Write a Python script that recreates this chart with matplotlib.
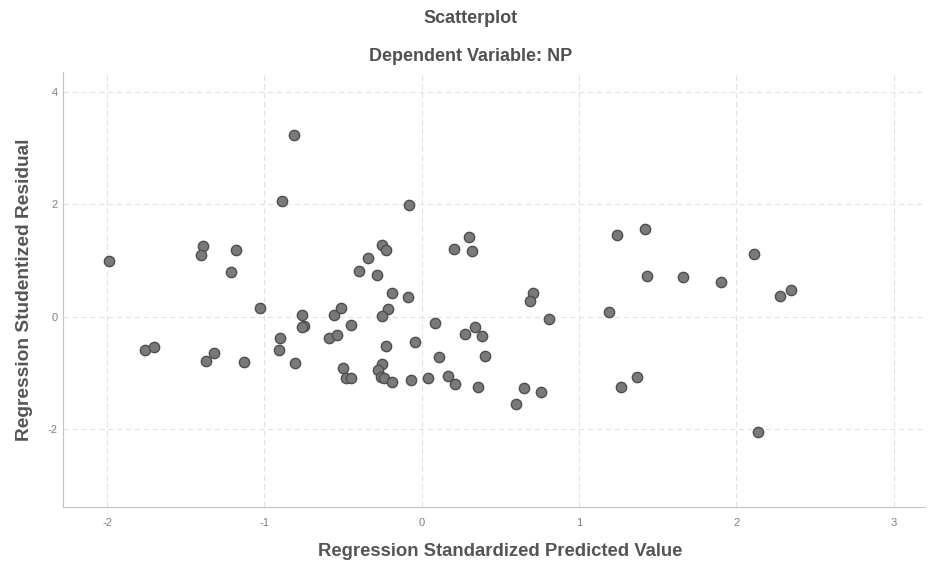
import matplotlib.pyplot as plt

# Regression standardized predicted value (x) and studentized residual (y)
pred = [-0.81, -0.886, -1.99, -1.39, -1.40, -1.18, -1.21, -0.40, -1.03, -0.76,
        -0.56, -0.51, -0.08, -0.254, -0.23, -0.34, -0.286, -0.19, -0.09, -0.216,
        -0.254, 0.205, 0.30, 0.32, 0.71, 0.69, 1.19, 1.24, 1.42, 1.43,
        0.81, 1.66, 1.90, 2.11, 2.28, 2.35, -0.75, -0.76, -0.45, -0.90,
        -0.91, -0.59, -0.54, -1.76, -1.70, -1.37, -1.32, -1.13, -0.805, -0.50,
        -0.48, -0.45, 0.083, 0.275, 0.34, 0.386, -0.227, -0.04, 0.11, 0.40,
        -0.25, -0.275, -0.26, -0.24, -0.19, -0.07, 0.04, 0.17, 0.21, 0.36,
        0.60, 0.65, 0.76, 1.27, 1.37, 2.14]
resid = [3.24, 2.06, 0.99, 1.25, 1.09, 1.18, 0.80, 0.81, 0.16, 0.02,
         0.03, 0.15, 1.98, 1.27, 1.18, 1.05, 0.74, 0.42, 0.34, 0.14,
         0.01, 1.21, 1.41, 1.16, 0.42, 0.28, 0.08, 1.45, 1.56, 0.73,
         -0.04, 0.71, 0.61, 1.12, 0.37, 0.48, -0.16, -0.19, -0.15, -0.39,
         -0.60, -0.39, -0.32, -0.59, -0.55, -0.79, -0.65, -0.81, -0.83, -0.91,
         -1.09, -1.10, -0.12, -0.31, -0.19, -0.35, -0.52, -0.45, -0.72, -0.71,
         -0.85, -0.96, -1.08, -1.10, -1.16, -1.13, -1.10, -1.05, -1.20, -1.26,
         -1.56, -1.27, -1.34, -1.25, -1.08, -2.05]

x_ticks = [-2, -1, 0, 1, 2, 3]
y_ticks = [-2, 0, 2, 4]

plt.rcParams['font.family'] = ['Liberation Sans', 'DejaVu Sans']
plt.rcParams['axes.unicode_minus'] = False

fig = plt.figure(figsize=(9.32, 5.69), dpi=100)
ax = fig.add_axes([0.0676, 0.109, 0.925, 0.764])

ax.scatter(pred, resid, s=55, color="#7a7a7a", edgecolors="#4e4e4e",
           linewidths=1.0, zorder=3)

ax.set_xlim(-2.28, 3.2)
ax.set_ylim(-3.39, 4.35)
ax.set_xticks(x_ticks)
ax.set_yticks(y_ticks)
ax.grid(True, color="#e2e2e2", linestyle=(0, (5, 3)), linewidth=0.8)

for side in ["top", "right"]:
    ax.spines[side].set_visible(False)
for side in ["left", "bottom"]:
    ax.spines[side].set_color("#c4c4c4")
ax.tick_params(length=0, labelsize=8, labelcolor="#808080")
ax.tick_params(axis="x", pad=8)
ax.tick_params(axis="y", pad=4)

ax.set_xlabel("Regression Standardized Predicted Value", fontsize=13.3,
              fontweight="bold", color="#555555", va="center")
ax.set_ylabel("Regression Studentized Residual", fontsize=13.8,
              fontweight="bold", color="#555555", va="center")
ax.xaxis.set_label_coords(0.507, -0.103)
ax.yaxis.set_label_coords(-0.045, 0.5)

fig.text(0.505, 0.968, "Scatterplot", ha="center", va="center",
         fontsize=13, fontweight="bold", color="#505050")
fig.text(0.505, 0.900, "Dependent Variable: NP", ha="center", va="center",
         fontsize=13, fontweight="bold", color="#505050")

plt.savefig("out.png", dpi=100)
